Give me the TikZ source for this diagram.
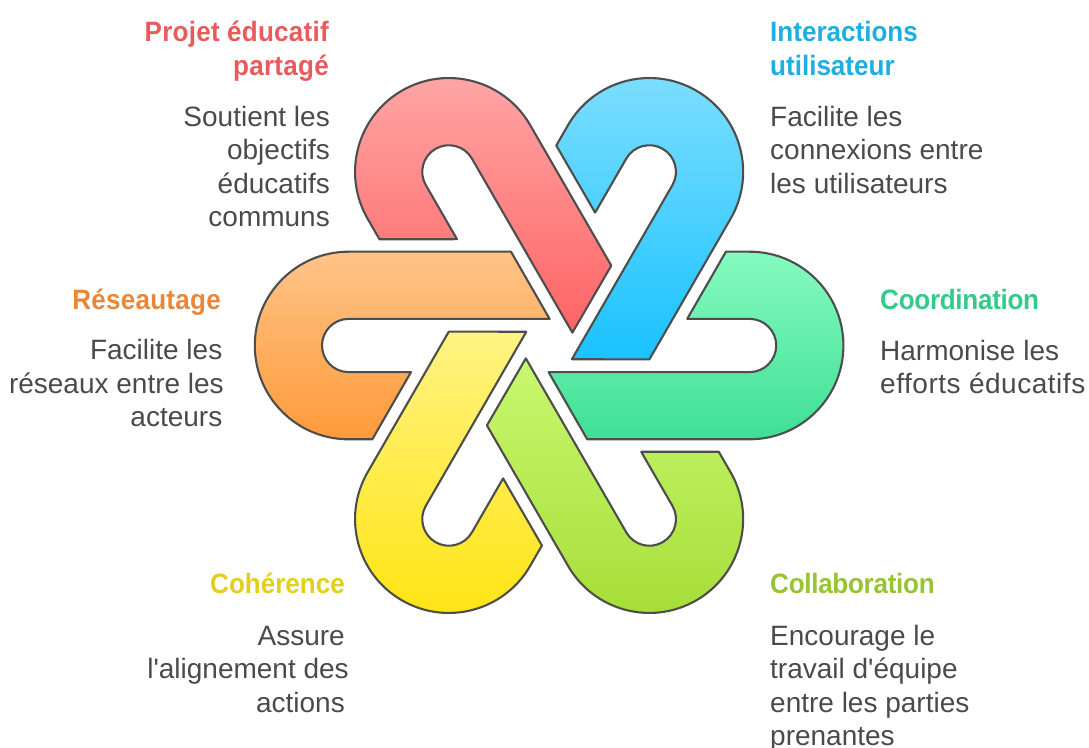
\documentclass[tikz,border=0pt]{standalone}
\usepackage{fontspec}
\setmainfont{Liberation Sans}
\newfontfamily\headfont{Liberation Sans}[FakeStretch=0.93]
\newfontface\widebody{Liberation Sans}[LetterSpace=1.9]
\newfontfamily\headwide{Liberation Sans}[FakeStretch=0.93,LetterSpace=0.9]
\newfontfamily\headtight{Liberation Sans}[FakeStretch=0.93,LetterSpace=-1.0]
\usetikzlibrary{calc}
\definecolor{inkc}{HTML}{4D4D4D}
\definecolor{txtc}{HTML}{4A4A4A}
\definecolor{hred}{HTML}{E95B5B}
\definecolor{hblue}{HTML}{1FAEE0}
\definecolor{horange}{HTML}{E8873A}
\definecolor{hgreen}{HTML}{35C98B}
\definecolor{hlime}{HTML}{96C433}
\definecolor{hyellow}{HTML}{E2CE1F}
\tikzset{
  petal/.style={draw=inkc,line width=2.1pt,line join=round},
  headl/.style={font=\headfont\fontsize{28}{33.5}\selectfont\bfseries,inner sep=0pt},
  headlw/.style={font=\headwide\fontsize{28}{33.5}\selectfont\bfseries,inner sep=0pt},
  headlt/.style={font=\headtight\fontsize{28}{33.5}\selectfont\bfseries,inner sep=0pt},
  bodyl/.style={font=\fontsize{28}{33.5}\selectfont,text=txtc,inner sep=0pt},
}
\newcommand{\petalpath}{(-200.5,93.8) -- (-38.1,93.8) -- (0.5,26.6) -- (-200.5,26.6)
  arc[start angle=90,end angle=270,radius=26.6] -- (-138.1,-26.6) -- (-176.8,-93.8) -- (-200.5,-93.8)
  arc[start angle=270,end angle=90,radius=93.8] -- cycle}
\begin{document}
\begin{tikzpicture}[x=1pt,y=1pt]
\useasboundingbox (0,0) rectangle (1089,747);
\coordinate (ctr) at (549.1,401.5);
\begin{scope}[shift={(ctr)}]
\definecolor{a}{HTML}{FFC488}\definecolor{b}{HTML}{FF9A3A}
\shade[petal,rotate=0,top color=a,bottom color=b] \petalpath;
\definecolor{a}{HTML}{FFA8A8}\definecolor{b}{HTML}{FF6464}
\shade[petal,rotate=-60,top color=a,bottom color=b] \petalpath;
\definecolor{a}{HTML}{80DFFF}\definecolor{b}{HTML}{19C2FF}
\shade[petal,rotate=-120,top color=a,bottom color=b] \petalpath;
\definecolor{a}{HTML}{85FBBF}\definecolor{b}{HTML}{3FDF95}
\shade[petal,rotate=-180,top color=a,bottom color=b] \petalpath;
\definecolor{a}{HTML}{C8F870}\definecolor{b}{HTML}{A5DD35}
\shade[petal,rotate=-240,top color=a,bottom color=b] \petalpath;
\definecolor{a}{HTML}{FFF382}\definecolor{b}{HTML}{FFE40F}
\shade[petal,rotate=-300,top color=a,bottom color=b] \petalpath;
\end{scope}
\node[headlw,text=hred,anchor=base east,align=right] (h1) at (329,671.5) {Projet éducatif\\partagé};
\node[bodyl,anchor=base east,align=right] (b1) at (330,520) {Soutient les\\objectifs\\éducatifs\\communs};
\node[headl,text=hblue,anchor=base west,align=left] (h2) at (770,671.5) {Interactions\\utilisateur};
\node[bodyl,anchor=base west,align=left] (b2) at (770,553.5) {Facilite les\\connexions entre\\les utilisateurs};
\node[headlw,text=horange,anchor=base east,align=right] (h3) at (221,437.5) {Réseautage};
\node[bodyl,anchor=base east,align=right] (b3) at (222.5,320) {Facilite les\\réseaux entre les\kern-1.5pt\\acteurs};
\node[headlt,text=hgreen,anchor=base west,align=left] (h4) at (880,437.5) {Coordination};
\node[bodyl,anchor=base west,align=left] (b4) at (880,353) {Harmonise les\\{\widebody efforts éducatifs}};
\node[headl,text=hyellow,anchor=base east,align=right] (h5) at (345,153.5) {Cohérence};
\node[bodyl,anchor=base east,align=right] (b5) at (345,35) {Assure\\l\textquotesingle alignement des\kern-4pt\\actions};
\node[headlt,text=hlime,anchor=base west,align=left] (h6) at (770,153.5) {Collaboration};
\node[bodyl,anchor=base west,align=left] (b6) at (770,1.5) {Encourage le\\travail d\textquotesingle équipe\\entre les parties\\prenantes};
\end{tikzpicture}
\end{document}
